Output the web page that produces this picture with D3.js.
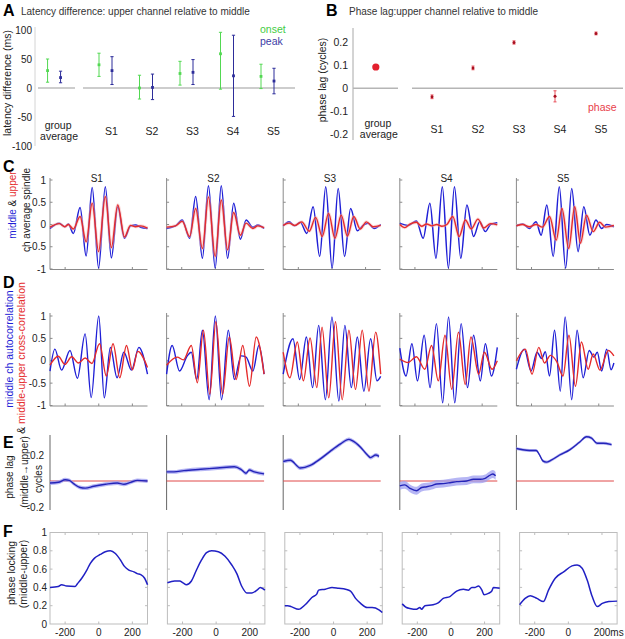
<!DOCTYPE html>
<html><head><meta charset="utf-8">
<script src="https://cdn.jsdelivr.net/npm/d3@7"></script>
<style>body{margin:0;background:#fff}svg{display:block}</style>
</head><body>
<script>
// ---------------- DATA ----------------
const aGroups = ["group average","S1","S2","S3","S4","S5"];
const aOnsetMean = [30, 40, 0, 25, 59, 20];
const aOnsetLow  = [10, 20, -19, 5, -2, -1];
const aOnsetHigh = [50, 60, 22, 46, 96, 41];
const aPeakMean  = [18, 30, 1, 27, 21, 12];
const aPeakLow   = [9, 6, -20, 6, -49, -10];
const aPeakHigh  = [29, 54, 24, 49, 91, 34];
const aTicks = [100, 50, 0, -50, -100];

const bMean = [0.092, -0.037, 0.088, 0.198, -0.035, 0.237];
const bErr  = [0, 0.008, 0.008, 0.007, 0.024, 0.006];
const bTicks = [0.2, 0.1, 0, -0.1, -0.2];

const subjects = ["S1","S2","S3","S4","S5"];
const cdTicks = [1, 0.5, 0, -0.5, -1];
const eTicks = [0.2, -0.2];
const fYTicks = [0, 0.2, 0.4, 0.6, 0.8, 1];
const timeTicks = [-200, 0, 200];

// C: average spindle, [time ms, amplitude]
const cMiddleS1 = [[-290,-0.09],[-235,0.03],[-201,-0.05],[-181,0.01],[-151,-0.2],[-111,0.38],[-75,-0.71],[-39,0.83],[-1,-0.98],[39,0.85],[75,-0.75],[113,0.4],[153,-0.31],[189,-0.03],[219,-0.01],[249,-0.06],[290,-0.09]];
const cUpperS1  = [[-290,-0.06],[-235,0.02],[-201,-0.05],[-181,0.0],[-151,-0.1],[-111,0.18],[-75,-0.39],[-39,0.48],[-1,-0.61],[39,0.63],[75,-0.52],[113,0.44],[153,-0.28],[189,-0.02],[219,-0.05],[249,-0.03],[290,-0.08]];
const cMiddleS2 = [[-290,-0.09],[-237,-0.03],[-197,0.1],[-153,-0.31],[-117,0.63],[-77,-0.76],[-41,0.87],[-1,-0.98],[35,0.87],[73,-0.76],[109,0.48],[149,-0.33],[183,0.1],[223,-0.06],[253,-0.01],[290,-0.09]];
const cUpperS2  = [[-290,-0.06],[-237,-0.03],[-197,0.07],[-153,-0.27],[-117,0.36],[-77,-0.54],[-41,0.62],[-1,-0.72],[35,0.55],[73,-0.57],[109,0.27],[149,-0.24],[183,0.03],[223,-0.09],[253,-0.03],[290,-0.07]];
const cMiddleS3 = [[-290,-0.03],[-255,0.06],[-222,-0.03],[-188,0.05],[-150,-0.2],[-112,0.4],[-73,-0.72],[-37,0.85],[1,-0.98],[37,0.81],[75,-0.72],[111,0.36],[151,-0.14],[185,-0.02],[214,0.03],[250,-0.09],[290,0.0]];
const cUpperS3  = [[-290,-0.02],[-255,0.03],[-220,-0.02],[-180,0.06],[-135,-0.15],[-97,0.16],[-58,-0.27],[-20,0.25],[18,-0.31],[55,0.21],[92,-0.26],[130,0.18],[168,-0.1],[205,0.06],[245,-0.05],[290,-0.02]];
const cMiddleS4 = [[-290,0.03],[-240,-0.02],[-191,0.08],[-151,-0.31],[-111,0.48],[-75,-0.76],[-37,0.85],[-1,-0.98],[35,0.85],[73,-0.76],[109,0.44],[149,-0.27],[185,0.06],[219,-0.16],[249,0.0],[290,0.04]];
const cUpperS4  = [[-290,0.0],[-260,-0.07],[-230,0.01],[-191,0.05],[-160,-0.04],[-130,0.01],[-100,-0.03],[-70,0.0],[-40,-0.04],[-10,0.0],[25,0.18],[63,-0.27],[100,0.1],[135,-0.1],[175,0.12],[210,-0.08],[250,0.02],[290,-0.01]];
const cMiddleS5 = [[-290,-0.03],[-253,0.01],[-213,-0.09],[-173,0.06],[-143,-0.24],[-109,0.44],[-71,-0.72],[-35,0.85],[3,-0.98],[39,0.81],[77,-0.61],[111,0.4],[147,-0.24],[183,0.1],[217,-0.09],[247,0.0],[290,-0.05]];
const cUpperS5  = [[-290,-0.03],[-253,0.0],[-213,-0.05],[-173,0.0],[-135,-0.06],[-93,0.18],[-53,-0.35],[-19,0.36],[21,-0.54],[57,0.4],[91,-0.42],[127,0.21],[167,-0.16],[205,0.05],[240,-0.06],[290,-0.02]];

// D: autocorrelation (middle) and cross-correlation (middle-upper), [lag ms, r]
const dAutoS1  = [[-290,-0.23],[-261,0.26],[-221,-0.21],[-171,0.23],[-127,-0.39],[-81,0.6],[-45,-0.82],[0,1.0],[33,-0.83],[69,0.3],[109,-0.38],[149,0.19],[195,-0.21],[239,0.3],[290,-0.3]];
const dCrossS1 = [[-290,-0.1],[-241,0.1],[-201,-0.08],[-161,0.09],[-121,-0.05],[-81,0.06],[-41,-0.06],[5,0.38],[45,-0.34],[85,0.38],[125,-0.38],[165,0.34],[200,-0.2],[232,0.21],[290,-0.15]];
const dAutoS2  = [[-290,-0.3],[-257,0.34],[-213,-0.23],[-167,0.11],[-143,0.19],[-111,-0.42],[-77,0.68],[-37,-0.87],[0,1.0],[37,-0.87],[77,0.68],[113,-0.42],[153,0.11],[183,0.08],[223,-0.23],[259,0.34],[290,-0.3]];
const dCrossS2 = [[-290,-0.1],[-227,0.08],[-190,0.02],[-143,0.34],[-107,-0.49],[-71,0.68],[-33,-0.75],[3,0.87],[43,-0.75],[83,0.53],[123,-0.42],[163,0.34],[203,-0.57],[243,0.53],[290,-0.3]];
const dAutoS3  = [[-290,-0.3],[-232,0.49],[-192,-0.42],[-152,0.53],[-115,-0.6],[-79,0.79],[-39,-0.87],[0,0.98],[41,-0.9],[77,0.79],[115,-0.6],[151,0.53],[190,-0.68],[230,0.49],[268,-0.45],[290,-0.35]];
const dCrossS3 = [[-290,0.19],[-250,-0.38],[-206,0.42],[-170,-0.45],[-130,0.51],[-90,-0.6],[-59,0.75],[-19,-0.83],[21,0.87],[61,-0.87],[101,0.68],[140,-0.64],[180,0.68],[220,-0.68],[260,0.64],[290,-0.3]];
const dAutoS4  = [[-290,0.28],[-253,-0.34],[-218,0.38],[-185,-0.45],[-145,0.57],[-110,-0.6],[-72,0.83],[-35,-0.94],[0,0.98],[37,-0.94],[75,0.83],[113,-0.6],[149,0.57],[189,-0.45],[219,0.38],[255,-0.34],[290,0.3]];
const dCrossS4 = [[-290,0.04],[-241,-0.04],[-191,0.09],[-141,-0.19],[-101,0.34],[-61,-0.45],[-21,0.57],[19,-0.64],[59,0.64],[99,-0.53],[133,0.53],[179,-0.3],[213,0.19],[259,-0.19],[290,0.0]];
const dAutoS5  = [[-290,-0.19],[-243,0.26],[-203,-0.23],[-167,0.19],[-140,0.05],[-118,0.2],[-93,-0.34],[-63,0.68],[-29,-0.68],[0,0.98],[39,-0.87],[71,0.68],[107,-0.38],[143,0.23],[171,0.08],[191,0.19],[217,-0.23],[247,0.26],[273,-0.2],[290,-0.05]];
const dCrossS5 = [[-290,0.0],[-237,0.26],[-197,-0.3],[-157,0.3],[-123,-0.05],[-87,0.12],[-50,-0.02],[-13,-0.34],[23,0.57],[61,-0.57],[97,0.42],[137,-0.19],[167,0.15],[207,-0.21],[257,0.23],[290,0.11]];

// E: phase lag (cycles) over time
const ePhaseS1 = [[-290,-0.015],[-240,-0.01],[-200,0.01],[-175,0.005],[-150,-0.02],[-111,-0.05],[-80,-0.055],[-30,-0.04],[40,-0.025],[110,-0.015],[150,-0.025],[190,-0.01],[230,0.005],[290,0.0]];
const ePhaseS2 = [[-290,0.07],[-246,0.07],[-187,0.08],[-87,0.09],[13,0.1],[113,0.11],[152,0.09],[182,0.06],[202,0.085],[232,0.07],[290,0.055]];
const ePhaseS3 = [[-290,0.15],[-248,0.16],[-188,0.1],[-129,0.12],[-69,0.17],[-9,0.23],[51,0.285],[100,0.32],[121,0.31],[170,0.26],[211,0.2],[230,0.18],[260,0.2],[280,0.19]];
const ePhaseS4 = [[-290,-0.038],[-260,-0.03],[-230,-0.056],[-190,-0.075],[-160,-0.05],[-130,-0.044],[-100,-0.035],[-71,-0.023],[-31,-0.02],[9,-0.013],[49,-0.005],[108,0.0],[148,0.013],[188,0.013],[218,0.02],[238,0.038],[264,0.054],[280,0.04]];
const ePhaseS5 = [[-290,0.25],[-252,0.24],[-212,0.235],[-172,0.235],[-152,0.2],[-133,0.155],[-112,0.145],[-83,0.16],[-33,0.2],[27,0.24],[87,0.3],[127,0.34],[157,0.33],[190,0.29],[226,0.29],[276,0.28]];
const eBandWidth = [0.015, 0.015, 0.015, 0.03, 0.012];

// F: phase locking over time
const fLockS1 = [[-290,0.40],[-241,0.41],[-221,0.43],[-191,0.415],[-141,0.41],[-127,0.44],[-101,0.5],[-71,0.59],[-51,0.66],[-25,0.72],[9,0.76],[39,0.79],[69,0.8],[99,0.77],[129,0.7],[153,0.63],[179,0.59],[209,0.57],[229,0.55],[249,0.54],[273,0.5],[290,0.43]];
const fLockS2 = [[-290,0.45],[-247,0.47],[-217,0.47],[-197,0.45],[-177,0.43],[-147,0.47],[-117,0.59],[-87,0.70],[-57,0.78],[-27,0.8],[13,0.79],[53,0.74],[93,0.645],[123,0.55],[153,0.41],[183,0.34],[213,0.34],[243,0.37],[263,0.4],[290,0.37]];
const fLockS3 = [[-290,0.2],[-272,0.2],[-252,0.19],[-208,0.16],[-169,0.21],[-129,0.29],[-99,0.33],[-89,0.37],[-49,0.38],[-9,0.4],[31,0.39],[71,0.38],[101,0.36],[131,0.28],[161,0.225],[200,0.18],[230,0.18],[270,0.155],[290,0.125]];
const fLockS4 = [[-290,0.22],[-265,0.18],[-245,0.17],[-205,0.16],[-185,0.18],[-175,0.16],[-155,0.2],[-106,0.21],[-76,0.23],[-46,0.28],[-6,0.3],[34,0.36],[74,0.38],[104,0.37],[124,0.4],[144,0.4],[164,0.415],[184,0.37],[197,0.32],[223,0.335],[243,0.36],[253,0.4],[290,0.39]];
const fLockS5 = [[-290,0.21],[-257,0.28],[-227,0.31],[-187,0.28],[-148,0.245],[-118,0.37],[-78,0.5],[-28,0.57],[22,0.635],[52,0.645],[82,0.61],[112,0.48],[142,0.3],[172,0.19],[202,0.225],[241,0.245],[290,0.25]];

const cMiddle = [cMiddleS1,cMiddleS2,cMiddleS3,cMiddleS4,cMiddleS5];
const cUpper  = [cUpperS1,cUpperS2,cUpperS3,cUpperS4,cUpperS5];
const dAuto   = [dAutoS1,dAutoS2,dAutoS3,dAutoS4,dAutoS5];
const dCross  = [dCrossS1,dCrossS2,dCrossS3,dCrossS4,dCrossS5];
const ePhase  = [ePhaseS1,ePhaseS2,ePhaseS3,ePhaseS4,ePhaseS5];
const fLock   = [fLockS1,fLockS2,fLockS3,fLockS4,fLockS5];

// ---------------- DRAWING ----------------
const FONT = "'Liberation Sans', Arial, Helvetica, sans-serif";
const svg = d3.select("body").append("svg").attr("width",625).attr("height",639)
  .style("font-family",FONT);

const BLUE = "#1f1fd6", RED = "#e52b2b";
const GREEN_A = "#52d852", BLUE_A = "#2d2d9a", RED_B = "#e3202e";

function txt(x,y,s,o={}) {
  return svg.append("text").attr("x",x).attr("y",y).text(s)
    .attr("font-size",o.size||10).attr("fill",o.color||"#222")
    .attr("text-anchor",o.anchor||"start").attr("font-weight",o.weight||"normal");
}
function vlabel(x,y,parts,size) {
  const t = svg.append("text").attr("transform",`translate(${x},${y}) rotate(-90)`)
    .attr("text-anchor","middle").attr("font-size",size);
  parts.forEach(p => t.append("tspan").text(p[0]).attr("fill",p[1]));
}
function hline(x1,x2,y,c,w){svg.append("line").attr("x1",x1).attr("x2",x2).attr("y1",y).attr("y2",y).attr("stroke",c).attr("stroke-width",w);}
function vline(x,y1,y2,c,w){svg.append("line").attr("x1",x).attr("x2",x).attr("y1",y1).attr("y2",y2).attr("stroke",c).attr("stroke-width",w);}

// panel letters
txt(3,16,"A",{size:16,weight:"bold",color:"#000"});
txt(326,16,"B",{size:16,weight:"bold",color:"#000"});
txt(3,172,"C",{size:16,weight:"bold",color:"#000"});
txt(3,288,"D",{size:16,weight:"bold",color:"#000"});
txt(3,448,"E",{size:16,weight:"bold",color:"#000"});
txt(3,537,"F",{size:16,weight:"bold",color:"#000"});

// ---- Panel A ----
txt(21,15,"Latency difference: upper channel relative to middle",{size:10,color:"#333"});
const yA = d3.scaleLinear().domain([-100,100]).range([146,30]);
const xAs = d3.scaleLinear().domain([0,4]).range([105.5,267.5]);
const xA = i => i===0 ? xAs(-1.27) : xAs(i-1);
vline(35,27,146,"#d4d4d4",1);
hline(38,75,yA(0),"#bdbdbd",1.5);
hline(83,295,yA(0),"#bdbdbd",1.5);
aTicks.forEach(v => txt(32,yA(v)+3.5,String(v),{size:10,anchor:"end"}));
vlabel(11,83,[["latency difference (ms)","#222"]],10.5);
function errbar(x,m,lo,hi,y,c,r){
  vline(x,y(lo),y(hi),c,1);
  hline(x-1.6,x+1.6,y(lo),c,1); hline(x-1.6,x+1.6,y(hi),c,1);
  svg.append("rect").attr("x",x-r).attr("y",y(m)-r).attr("width",2*r).attr("height",2*r).attr("fill",c);
}
aGroups.forEach((g,i) => {
  const x = xA(i);
  errbar(x-6.5,aOnsetMean[i],aOnsetLow[i],aOnsetHigh[i],yA,GREEN_A,1.4);
  errbar(x+6.5,aPeakMean[i],aPeakLow[i],aPeakHigh[i],yA,BLUE_A,1.4);
  if(i===0){
    txt(x+4,129,"group",{size:10.5,anchor:"middle"});
    txt(x+5,140,"average",{size:10.5,anchor:"middle"});
  } else txt(x+6,135,g,{size:10.5,anchor:"middle"});
});
txt(260,33,"onset",{size:10.5,color:"#44cc44"});
txt(260,45,"peak",{size:10.5,color:"#3d3da6"});

// ---- Panel B ----
txt(349,15,"Phase lag:upper channel relative to middle",{size:10,color:"#333"});
const yB = d3.scaleLinear().domain([-0.2,0.2]).range([134.5,42]);
const xBs = d3.scaleLinear().domain([0,4]).range([432,596]);
const xB = i => i===0 ? xBs(-1.37) : xBs(i-1);
vline(353,28,140,"#a8a8a8",1);
hline(353,398,yB(0),"#b5b5b5",1.5);
hline(412,623,yB(0),"#b5b5b5",1.5);
bTicks.forEach(v => txt(348,yB(v)+3.5,String(v),{size:10.5,anchor:"end"}));
vlabel(326,80,[["phase lag (cycles)","#222"]],10.5);
bMean.forEach((m,i) => {
  const x = xB(i);
  if(i===0){
    svg.append("circle").attr("cx",x).attr("cy",yB(m)).attr("r",3.6).attr("fill",RED_B);
    txt(x+2,127,"group",{size:10.5,anchor:"middle"});
    txt(x+3,138,"average",{size:10.5,anchor:"middle"});
  } else {
    vline(x,yB(m-bErr[i]),yB(m+bErr[i]),"#e8505a",1);
    hline(x-1.5,x+1.5,yB(m-bErr[i]),"#e8505a",1);
    hline(x-1.5,x+1.5,yB(m+bErr[i]),"#e8505a",1);
    svg.append("circle").attr("cx",x).attr("cy",yB(m)).attr("r",1.5).attr("fill","#a81020");
    txt(x+5,133,subjects[i-1],{size:10.5,anchor:"middle"});
  }
});
txt(588,111,"phase",{size:10.5,color:"#e8404a"});

// ---- Column geometry ----
const PW = 97.5;
const colL = i => 50 + i*116.6;
const colLF = i => 50 + i*117.4;
const xCol = L => d3.scaleLinear().domain([-290,290]).range([L, L+PW]);
const AX = "#8a8a8a";

// ---- Panel C ----
const yC = d3.scaleLinear().domain([-1,1]).range([269,180]);
vlabel(16,205,[["middle",BLUE],[" & ","#222"],["upper",RED]],10);
vlabel(29.5,210,[["ch average spindle","#222"]],10);
cdTicks.forEach(v => txt(46,yC(v)+3.5,String(v),{size:10,anchor:"end"}));
subjects.forEach((s,i) => {
  const L = colL(i), x = xCol(L);
  vline(L,178,269.5,AX,1); hline(L,L+PW,269.5,AX,1);
  cdTicks.forEach(v => hline(L,L+2.5,yC(v),AX,1));
  timeTicks.forEach(t => vline(x(t),269.5,267,AX,1));
  txt(L+PW/2-2,182,s,{size:10,anchor:"middle"});
  const ln = d3.line().x(d=>x(d[0])).y(d=>yC(d[1])).curve(d3.curveMonotoneX);
  svg.append("path").attr("d",ln(cMiddle[i])).attr("fill","none").attr("stroke",BLUE).attr("stroke-width",1.5);
  svg.append("path").attr("d",ln(cUpper[i])).attr("fill","none").attr("stroke","#f4b0b0").attr("stroke-width",3.2).attr("opacity",0.45);
  svg.append("path").attr("d",ln(cUpper[i])).attr("fill","none").attr("stroke",RED).attr("stroke-width",1.4);
});

// ---- Panel D ----
const yD = d3.scaleLinear().domain([-1,1]).range([405.5,316]);
vlabel(13,349,[["middle ch autocorrelation",BLUE]],10.5);
vlabel(25,358,[["& ","#222"],["middle-upper cross-correlation",RED]],10.5);
cdTicks.forEach(v => txt(46,yD(v)+3.5,String(v),{size:10,anchor:"end"}));
subjects.forEach((s,i) => {
  const L = colL(i), x = xCol(L);
  vline(L,313,406,AX,1); hline(L,L+PW,406,AX,1);
  cdTicks.forEach(v => hline(L,L+2.5,yD(v),AX,1));
  timeTicks.forEach(t => vline(x(t),406,403.5,AX,1));
  const ln = d3.line().x(d=>x(d[0])).y(d=>yD(d[1])).curve(d3.curveMonotoneX);
  svg.append("path").attr("d",ln(dAuto[i])).attr("fill","none").attr("stroke",BLUE).attr("stroke-width",1.4);
  svg.append("path").attr("d",ln(dCross[i])).attr("fill","none").attr("stroke",RED).attr("stroke-width",1.4);
});

// ---- Panel E ----
const yE = d3.scaleLinear().domain([-0.2,0.2]).range([507,455]);
vlabel(13,477,[["phase lag","#222"]],10);
vlabel(27.5,472,[["(middle\u2192upper)","#222"]],10);
vlabel(41.5,479,[["cycles","#222"]],10);
eTicks.forEach(v => txt(44,yE(v)+3.5,String(v),{size:10,anchor:"end"}));
subjects.forEach((s,i) => {
  const L = colL(i), x = xCol(L);
  vline(L,435,510,"#666",1);
  hline(L,L+PW,yE(0),"#e04848",1);
  const w = eBandWidth[i];
  const ar = d3.area().x(d=>x(d[0])).y0(d=>yE(d[1]-w)).y1(d=>yE(d[1]+w)).curve(d3.curveMonotoneX);
  svg.append("path").attr("d",ar(ePhase[i])).attr("fill","#9d9df0").attr("opacity",0.75);
  const ln = d3.line().x(d=>x(d[0])).y(d=>yE(d[1])).curve(d3.curveMonotoneX);
  svg.append("path").attr("d",ln(ePhase[i])).attr("fill","none").attr("stroke","#2424b8").attr("stroke-width",1.4);
});

// ---- Panel F ----
const yF = d3.scaleLinear().domain([0,1]).range([624,532.5]);
vlabel(15,573,[["phase locking","#222"]],10.5);
vlabel(26.5,574,[["(middle-upper)","#222"]],10.5);
fYTicks.forEach(v => txt(47,yF(v)+3.5,String(v),{size:10,anchor:"end"}));
subjects.forEach((s,i) => {
  const L = colLF(i), x = xCol(L);
  svg.append("rect").attr("x",L).attr("y",yF(1)).attr("width",PW).attr("height",yF(0)-yF(1))
    .attr("fill","none").attr("stroke","#bdbdbd").attr("stroke-width",1);
  fYTicks.slice(1,-1).forEach(v => { hline(L,L+2.5,yF(v),"#bdbdbd",1); hline(L+PW-2.5,L+PW,yF(v),"#bdbdbd",1); });
  timeTicks.forEach((t,k) => {
    vline(x(t),yF(0),yF(0)-2.5,"#bdbdbd",1); vline(x(t),yF(1),yF(1)+2.5,"#bdbdbd",1);
    if(i===4 && k===2) txt(x(t)-8.3,636,String(t)+"ms",{size:10});
    else txt(x(t),636,String(t),{size:10,anchor:"middle"});
  });
  const ln = d3.line().x(d=>x(d[0])).y(d=>yF(d[1])).curve(d3.curveMonotoneX);
  svg.append("path").attr("d",ln(fLock[i])).attr("fill","none").attr("stroke","#2020c4").attr("stroke-width",1.5);
});
</script>
</body></html>
